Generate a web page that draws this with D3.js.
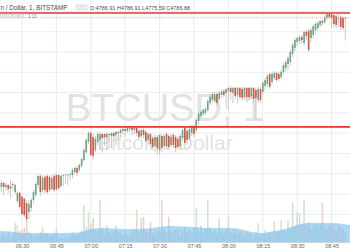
<html>
<head>
<meta charset="utf-8">
<script src="https://d3js.org/d3.v7.min.js"></script>
<style>
	html, body { margin:0; padding:0; background:white; }
	svg { display:block; }
</style>
</head>
<body>
<script>
// DATA - 1 minute candles, first one at 06:20
var startTime = "06:20";

var opens = [
	4703.0, 4703.5, 4705.5, 4703.5, 4704.5, 4702.5, 4705.0, 4701.0, 4696.6, 4700.6,
	4698.6, 4697.6, 4695.6, 4691.2, 4693.2, 4697.1, 4699.6, 4704.5, 4708.9, 4702.0,
	4708.4, 4708.9, 4708.4, 4702.5, 4708.9, 4709.4, 4709.4, 4704.0, 4709.4, 4709.4,
	4709.4, 4709.4, 4709.4, 4710.9, 4712.9, 4711.9, 4713.9, 4716.8, 4720.7, 4725.7,
	4730.1, 4728.1, 4721.7, 4725.7, 4726.7, 4729.6, 4729.6, 4728.1, 4729.6, 4728.6,
	4730.1, 4729.1, 4730.6, 4730.1, 4731.1, 4732.1, 4731.1, 4732.1, 4732.6, 4731.6,
	4732.6, 4731.1, 4728.6, 4731.6, 4730.6, 4726.7, 4729.6, 4727.6, 4723.7, 4728.1,
	4721.7, 4728.6, 4723.7, 4729.6, 4728.6, 4724.2, 4729.1, 4728.1, 4727.2, 4723.7,
	4727.6, 4732.6, 4731.1, 4727.6, 4730.1, 4733.1, 4731.6, 4736.0, 4738.5, 4739.5,
	4740.0, 4741.4, 4744.9, 4746.4, 4745.9, 4749.3, 4746.9, 4748.8, 4750.8, 4749.8,
	4750.8, 4752.3, 4749.8, 4752.3, 4748.8, 4752.3, 4751.8, 4747.8, 4752.3, 4752.3,
	4748.3, 4752.3, 4751.3, 4746.4, 4751.8, 4750.3, 4753.3, 4754.2, 4759.2, 4755.2,
	4757.2, 4759.7, 4759.2, 4757.7, 4760.2, 4762.1, 4764.1, 4765.1, 4769.0, 4772.0,
	4774.9, 4775.4, 4777.4, 4774.4, 4779.9, 4780.4, 4776.9, 4778.4, 4780.8, 4781.8,
	4783.3, 4785.3, 4784.8, 4786.8, 4788.7, 4788.7, 4788.2, 4787.7, 4786.8, 4787.3,
	4786.8, 4786.91
];

var highs = [
	4706.0, 4706.5, 4706.0, 4705.5, 4705.0, 4707.0, 4706.0, 4705.0, 4701.5, 4701.0,
	4699.6, 4698.6, 4697.1, 4697.1, 4698.1, 4702.0, 4706.0, 4709.9, 4709.9, 4709.4,
	4709.4, 4709.9, 4709.4, 4709.4, 4709.9, 4709.9, 4709.9, 4709.9, 4709.9, 4709.9,
	4709.9, 4710.4, 4712.9, 4713.4, 4713.9, 4715.3, 4717.8, 4722.7, 4727.6, 4731.1,
	4731.1, 4729.6, 4728.6, 4730.6, 4730.6, 4730.1, 4730.1, 4730.6, 4730.1, 4730.6,
	4730.6, 4731.1, 4731.1, 4732.1, 4732.6, 4733.1, 4733.1, 4733.6, 4733.1, 4733.1,
	4733.1, 4732.1, 4732.1, 4732.6, 4731.6, 4730.6, 4730.1, 4728.6, 4729.1, 4729.1,
	4729.6, 4729.6, 4729.6, 4730.6, 4729.6, 4729.6, 4730.1, 4729.1, 4728.6, 4729.6,
	4732.1, 4733.1, 4732.1, 4733.1, 4734.0, 4734.0, 4737.5, 4740.5, 4741.4, 4742.4,
	4742.9, 4746.9, 4748.8, 4750.3, 4750.3, 4750.3, 4750.8, 4751.3, 4751.8, 4752.3,
	4752.8, 4753.3, 4752.8, 4752.8, 4752.8, 4752.8, 4752.8, 4752.8, 4752.8, 4752.8,
	4752.8, 4752.8, 4752.3, 4752.8, 4752.8, 4755.7, 4757.2, 4759.2, 4759.7, 4760.2,
	4760.7, 4760.2, 4760.2, 4761.1, 4764.6, 4766.1, 4768.0, 4771.0, 4774.4, 4776.9,
	4777.4, 4778.4, 4778.4, 4780.4, 4780.8, 4781.3, 4781.8, 4783.8, 4784.8, 4785.3,
	4785.8, 4786.3, 4788.2, 4789.2, 4789.2, 4789.2, 4788.7, 4788.7, 4788.2, 4788.2,
	4787.7, 4786.91
];

var lows = [
	4702.0, 4701.0, 4699.6, 4701.5, 4700.6, 4698.1, 4702.0, 4700.1, 4695.6, 4692.7,
	4689.2, 4688.7, 4686.3, 4687.7, 4691.2, 4695.6, 4698.6, 4703.0, 4699.1, 4700.6,
	4700.6, 4700.1, 4701.0, 4701.5, 4701.0, 4701.5, 4702.0, 4703.0, 4704.0, 4705.0,
	4704.5, 4706.5, 4707.9, 4709.9, 4708.9, 4710.9, 4712.9, 4715.8, 4719.8, 4724.7,
	4718.3, 4716.8, 4720.7, 4724.2, 4721.7, 4720.7, 4723.7, 4721.7, 4725.2, 4722.7,
	4726.2, 4724.2, 4726.7, 4727.6, 4729.1, 4728.1, 4730.1, 4730.6, 4729.1, 4729.6,
	4728.6, 4726.7, 4727.6, 4727.6, 4725.2, 4724.2, 4722.7, 4721.7, 4720.7, 4719.3,
	4719.3, 4720.7, 4721.7, 4722.2, 4721.7, 4722.7, 4722.7, 4720.7, 4721.7, 4722.7,
	4726.2, 4722.7, 4724.2, 4726.2, 4728.6, 4728.1, 4730.6, 4734.5, 4737.5, 4738.5,
	4739.0, 4740.5, 4743.9, 4745.4, 4744.9, 4743.4, 4745.9, 4747.4, 4747.8, 4742.4,
	4741.4, 4746.4, 4744.9, 4746.9, 4744.9, 4746.4, 4745.9, 4746.4, 4745.4, 4746.4,
	4746.9, 4744.9, 4736.5, 4744.9, 4744.9, 4748.8, 4751.3, 4752.8, 4751.8, 4753.8,
	4756.2, 4755.2, 4755.7, 4756.7, 4759.2, 4760.2, 4761.1, 4763.1, 4767.5, 4770.5,
	4773.0, 4774.0, 4774.0, 4773.0, 4775.9, 4770.0, 4774.9, 4776.9, 4778.9, 4780.4,
	4781.8, 4782.8, 4783.8, 4785.8, 4786.3, 4781.8, 4781.8, 4781.8, 4782.3, 4780.8,
	4780.8, 4775.59
];

var closes = [
	4705.0, 4705.5, 4703.5, 4704.5, 4702.5, 4704.0, 4704.5, 4704.5, 4700.6, 4693.7,
	4690.2, 4689.7, 4687.7, 4695.1, 4697.1, 4701.0, 4705.0, 4708.9, 4701.0, 4707.9,
	4702.0, 4701.0, 4702.0, 4707.9, 4702.0, 4702.5, 4703.0, 4708.9, 4709.2, 4709.7,
	4709.5, 4709.9, 4711.9, 4712.9, 4710.4, 4714.3, 4717.3, 4721.7, 4726.7, 4730.1,
	4719.3, 4718.8, 4727.2, 4729.6, 4729.6, 4727.6, 4728.1, 4729.6, 4729.1, 4730.1,
	4728.6, 4730.6, 4730.1, 4731.6, 4732.1, 4731.1, 4732.6, 4732.8, 4731.6, 4732.6,
	4730.1, 4728.1, 4731.6, 4729.1, 4726.2, 4729.6, 4724.7, 4723.2, 4728.1, 4722.7,
	4729.1, 4722.7, 4728.6, 4723.7, 4723.2, 4728.1, 4724.2, 4722.7, 4723.2, 4728.6,
	4731.6, 4725.2, 4726.7, 4732.1, 4733.6, 4729.6, 4736.5, 4739.5, 4740.5, 4741.4,
	4741.9, 4745.9, 4747.8, 4749.3, 4749.3, 4744.9, 4749.8, 4750.3, 4748.8, 4751.8,
	4752.3, 4750.3, 4752.3, 4748.3, 4752.3, 4747.8, 4747.4, 4752.3, 4747.8, 4747.8,
	4752.3, 4746.9, 4747.4, 4751.8, 4746.4, 4754.7, 4756.2, 4758.2, 4752.8, 4759.2,
	4759.7, 4756.2, 4756.7, 4760.2, 4763.6, 4765.1, 4767.1, 4770.0, 4773.5, 4775.9,
	4776.9, 4777.4, 4775.9, 4779.9, 4777.9, 4771.0, 4780.8, 4782.8, 4783.8, 4784.3,
	4785.3, 4784.3, 4787.3, 4788.7, 4787.3, 4786.8, 4783.8, 4783.3, 4786.5, 4782.3,
	4781.8, 4786.88
];

// DATA - volume per candle
var volumes = [
	10, 8, 12, 7, 14, 9, 11, 27, 24, 16,
	18, 20, 34, 15, 12, 9, 8, 10, 14, 21,
	11, 13, 8, 9, 12, 20, 7, 6, 5, 8,
	6, 9, 14, 11, 10, 12, 16, 53, 22, 43,
	26, 34, 18, 15, 60, 20, 12, 24, 14, 10,
	16, 24, 13, 11, 9, 14, 10, 12, 15, 18,
	46, 15, 34, 36, 14, 12, 29, 13, 11, 16,
	14, 60, 18, 13, 36, 15, 12, 17, 20, 11,
	16, 22, 14, 18, 13, 19, 49, 15, 24, 12,
	18, 60, 21, 14, 16, 13, 34, 15, 12, 17,
	36, 14, 12, 18, 11, 15, 13, 10, 16, 12,
	11, 9, 14, 27, 10, 12, 17, 13, 15, 11,
	29, 14, 16, 31, 18, 15, 31, 20, 56, 22,
	43, 41, 25, 60, 24, 28, 19, 22, 26, 20,
	24, 56, 21, 18, 23, 27, 20, 17, 25, 22,
	19, 15
];

// DATA - volume average, one value every 5 minutes from 06:20
var volumeAvg = [
	15.7, 15, 12.9, 12.9, 12.9, 12.9, 12.9, 13.6, 18.6, 20,
	19.3, 18.6, 18.6, 19.3, 21.4, 22.9, 22.1, 21.4, 20, 20,
	20, 18.6, 14.3, 12.9, 15.7, 18.6, 24.3, 27.1, 27.1, 27.1,
	25.7, 22.9
];

// DATA - time axis labels and price grid
var tickLabels = ["06:30","06:45","07:00","07:15","07:30","07:45","08:00","08:15","08:30","08:45"];
var gridPrices = [4790, 4780, 4770, 4760, 4750, 4740, 4730, 4720, 4710, 4700, 4690];

// DATA - drawn horizontal levels (red lines)
var levels = [4789.2, 4733.1];

// header starts cut at the left edge of the screenshot
var title = "n / Dollar, 1, BITSTAMP";
var symbol = "BTCUSD, 1";
var description = "Bitcoin / Dollar";

// svg
var svg = d3.select("body")
	.append("svg")
	.attr("width",350)
	.attr("height",250)
	.style("background-color","white");

var parseTime = d3.timeParse("%H:%M");
var tickTimes = tickLabels.map(parseTime);

var candles = opens.map(function(d,i){
	return {
		t: d3.timeMinute.offset(parseTime(startTime), i),
		o: opens[i], h: highs[i], l: lows[i], c: closes[i], v: volumes[i]
	};
});

// scales
var x = d3.scaleTime()
	.domain([tickTimes[0], tickTimes[tickTimes.length-1]])
	.range([22, 331.6]);
var y = d3.scaleLinear()
	.domain([4780, 4690])
	.range([31.7, 214.4]);
var yVol = d3.scaleLinear()
	.domain([0, 60])
	.range([242, 200]);

// grid
svg.append("g").selectAll("line")
	.data(gridPrices)
	.enter().append("line")
	.attr("x1",0).attr("x2",350)
	.attr("y1",function(d){return y(d)})
	.attr("y2",function(d){return y(d)})
	.style("stroke","#ececec");
svg.append("g").selectAll("line")
	.data(tickTimes)
	.enter().append("line")
	.attr("x1",function(d){return x(d)})
	.attr("x2",function(d){return x(d)})
	.attr("y1",0).attr("y2",242)
	.style("stroke","#ececec");

// watermark
svg.append("text")
	.attr("x",165).attr("y",121)
	.attr("text-anchor","middle")
	.attr("font-family","Liberation Sans, Arial, sans-serif")
	.attr("font-size",38)
	.style("fill","#e2e2e2")
	.text(symbol);
svg.append("text")
	.attr("x",165).attr("y",150)
	.attr("text-anchor","middle")
	.attr("font-family","Liberation Sans, Arial, sans-serif")
	.attr("font-size",21)
	.style("fill","#e2e2e2")
	.text(description);

// volume bars
svg.append("g").selectAll("rect")
	.data(candles)
	.enter().append("rect")
	.attr("x",function(d){return x(d.t)-0.8})
	.attr("width",1.6)
	.attr("y",function(d){return yVol(d.v)})
	.attr("height",function(d){return 242-yVol(d.v)})
	.style("fill",function(d){return d.c>=d.o ? "#cde4d1" : "#f0d0cb"});

// volume average area
var avgPoints = volumeAvg.map(function(v,i){
	return {t: d3.timeMinute.offset(parseTime(startTime), i*5), v: v};
});
svg.append("path")
	.datum(avgPoints)
	.attr("d", d3.area()
		.x(function(d){return x(d.t)})
		.y0(242)
		.y1(function(d){return yVol(d.v)})
		.curve(d3.curveMonotoneX))
	.style("fill","#74bcee")
	.style("opacity",0.6);

// candles - wicks
svg.append("g").selectAll("line")
	.data(candles)
	.enter().append("line")
	.attr("x1",function(d){return x(d.t)})
	.attr("x2",function(d){return x(d.t)})
	.attr("y1",function(d){return y(d.h)})
	.attr("y2",function(d){return y(d.l)})
	.style("stroke","#bdbdbd")
	.style("stroke-width",0.8);

// candles - bodies
svg.append("g").selectAll("rect")
	.data(candles)
	.enter().append("rect")
	.attr("x",function(d){return x(d.t)-0.8})
	.attr("width",1.6)
	.attr("y",function(d){return y(Math.max(d.o,d.c))})
	.attr("height",function(d){return Math.max(0.7, Math.abs(y(d.o)-y(d.c)))})
	.style("fill",function(d){return d.c>=d.o ? "#6ba583" : "#d75442"});

// last price line
var last = candles[candles.length-1];
svg.append("line")
	.attr("x1",0).attr("x2",350)
	.attr("y1",y(last.c)).attr("y2",y(last.c))
	.style("stroke","#ef9a9a")
	.style("stroke-width",0.8)
	.style("stroke-dasharray","1,1");

// red levels
svg.append("g").selectAll("line")
	.data(levels)
	.enter().append("line")
	.attr("x1",0).attr("x2",350)
	.attr("y1",function(d){return y(d)})
	.attr("y2",function(d){return y(d)})
	.style("stroke","#e2362c")
	.style("stroke-width",1.6);

// time axis
svg.append("line")
	.attr("x1",0).attr("x2",350)
	.attr("y1",242.5).attr("y2",242.5)
	.style("stroke","#d4d4d4");
var axis = svg.append("g")
	.attr("transform","translate(0,242)")
	.call(d3.axisBottom(x).tickValues(tickTimes).tickFormat(d3.timeFormat("%H:%M")).tickSize(0).tickPadding(2.5));
axis.select(".domain").remove();
axis.selectAll("text")
	.attr("font-family","Liberation Sans, Arial, sans-serif")
	.attr("font-size",5.5)
	.style("fill","#666");

// header
svg.append("text")
	.attr("x",0.5).attr("y",9.8)
	.attr("font-family","Liberation Sans, Arial, sans-serif")
	.attr("font-size",6.3)
	.attr("textLength",67)
	.attr("lengthAdjust","spacingAndGlyphs")
	.style("fill","#4a4a4a")
	.text(title);
svg.append("g").selectAll("rect")
	.data([76, 82])
	.enter().append("rect")
	.attr("x",function(d){return d}).attr("y",5)
	.attr("width",5).attr("height",4.5)
	.style("fill","#eeeeee")
	.style("stroke","#c4c4c4")
	.style("stroke-width",0.5);
var fmt = d3.format(".2f");
svg.append("text")
	.attr("x",90).attr("y",9.8)
	.attr("font-family","Liberation Sans, Arial, sans-serif")
	.attr("font-size",6.2)
	.attr("textLength",100)
	.attr("lengthAdjust","spacingAndGlyphs")
	.style("fill","#4a4a4a")
	.text("O:" + fmt(last.o) + "  H" + fmt(last.h) + "  L" + fmt(last.l) + "  C" + fmt(last.c));

// indicator row
svg.append("g").selectAll("rect")
	.data([0.5, 6.5, 12.5, 18.5])
	.enter().append("rect")
	.attr("x",function(d){return d}).attr("y",14)
	.attr("width",5).attr("height",4)
	.style("fill","#e8e8e8")
	.style("stroke","#c8c8c8")
	.style("stroke-width",0.5);
svg.append("text")
	.attr("x",28).attr("y",17.8)
	.attr("font-family","Liberation Sans, Arial, sans-serif")
	.attr("font-size",4.5)
	.style("fill","#4a8fd8")
	.text("1  11");
</script>
</body>
</html>
